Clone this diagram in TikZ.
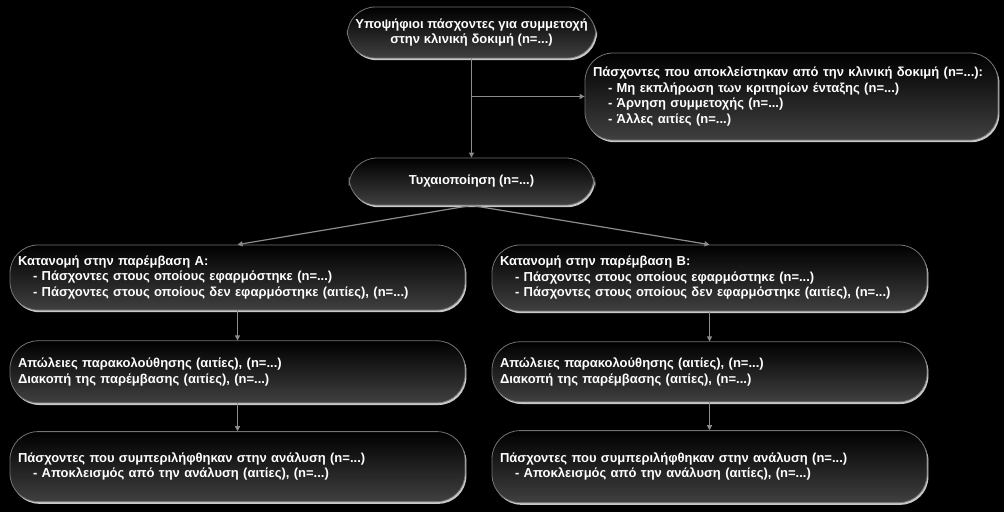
\documentclass[tikz,border=0pt]{standalone}
\usepackage{fontspec}
\setmainfont{Liberation Sans}
\usetikzlibrary{positioning,shadows,arrows.meta}

\newcommand{\itm}{\hspace*{15pt}- }

\begin{document}
\begin{tikzpicture}[%
    x=1pt,
    y=-1pt,
    font=\bfseries\fontsize{13}{15.5}\selectfont,
    node distance=30pt,
    box/.style={%
      rounded corners=28pt,
      draw=black!55,
      line width=0.8pt,
      top color=black,
      bottom color=black!75,
      drop shadow={shadow xshift=1.4pt, shadow yshift=-2.2pt, fill=black!22, opacity=1},
      text=white,
      inner xsep=8pt,
      inner ysep=0pt
    },
    mid/.style={box, align=center},
    lft/.style={box, align=left},
    link/.style={draw=black!45, line width=1.2pt, -{Triangle[width=5pt,length=5pt]}}
  ]
    \fill[black] (0,0) rectangle (1004,512);

    \node[mid, minimum width=243pt, minimum height=51pt] (cand) at (471.5,32.5)
      {Υποψήφιοι πάσχοντες για συμμετοχή\\στην κλινική δοκιμή (n=...)};
    \node[lft, text width=397pt, minimum height=87pt] (excl) at (791.5,96.5)
      {Πάσχοντες που αποκλείστηκαν από την κλινική δοκιμή (n=...):\\
       \itm Μη εκπλήρωση των κριτηρίων ένταξης (n=...)\\
       \itm Άρνηση συμμετοχής (n=...)\\
       \itm Άλλες αιτίες (n=...)};
    \node[mid, minimum width=245pt, minimum height=47pt] (rand) at (471.5,181.5)
      {Τυχαιοποίηση (n=...)};

    % column A
    \node[lft, text width=439pt, minimum height=65pt] (allocA) at (237.5,277.5)
      {Κατανομή στην παρέμβαση Α:\\
       \itm Πάσχοντες στους οποίους εφαρμόστηκε (n=...)\\
       \itm Πάσχοντες στους οποίους δεν εφαρμόστηκε (αιτίες), (n=...)};
    \node[lft, text width=439pt, minimum height=62pt] (lossA) [below=30pt of allocA]
      {Απώλειες παρακολούθησης (αιτίες), (n=...)\\
       Διακοπή της παρέμβασης (αιτίες), (n=...)};
    \node[lft, text width=439pt, minimum height=70pt] (anaA) [below=28pt of lossA]
      {Πάσχοντες που συμπεριλήφθηκαν στην ανάλυση (n=...)\\
       \itm Αποκλεισμός από την ανάλυση (αιτίες), (n=...)};

    % column B
    \node[lft, text width=419pt, minimum height=66pt] (allocB) at (709.5,278)
      {Κατανομή στην παρέμβαση Β:\\
       \itm Πάσχοντες στους οποίους εφαρμόστηκε (n=...)\\
       \itm Πάσχοντες στους οποίους δεν εφαρμόστηκε (αιτίες), (n=...)};
    \node[lft, text width=419pt, minimum height=60pt] (lossB) [below=30pt of allocB]
      {Απώλειες παρακολούθησης (αιτίες), (n=...)\\
       Διακοπή της παρέμβασης (αιτίες), (n=...)};
    \node[lft, text width=419pt, minimum height=72pt] (anaB) [below=28pt of lossB]
      {Πάσχοντες που συμπεριλήφθηκαν στην ανάλυση (n=...)\\
       \itm Αποκλεισμός από την ανάλυση (αιτίες), (n=...)};

    \coordinate (branch) at (cand.south |- excl.west);

    \path (cand.south)  edge [link] (rand.north)
          (branch)      edge [link] (excl.west)
          (rand.south)  edge [link] (allocA.north)
          (rand.south)  edge [link] (allocB.north)
          (allocA)      edge [link] (lossA)
          (lossA)       edge [link] (anaA)
          (allocB)      edge [link] (lossB)
          (lossB)       edge [link] (anaB)
          ;
  \end{tikzpicture}
\end{document}
